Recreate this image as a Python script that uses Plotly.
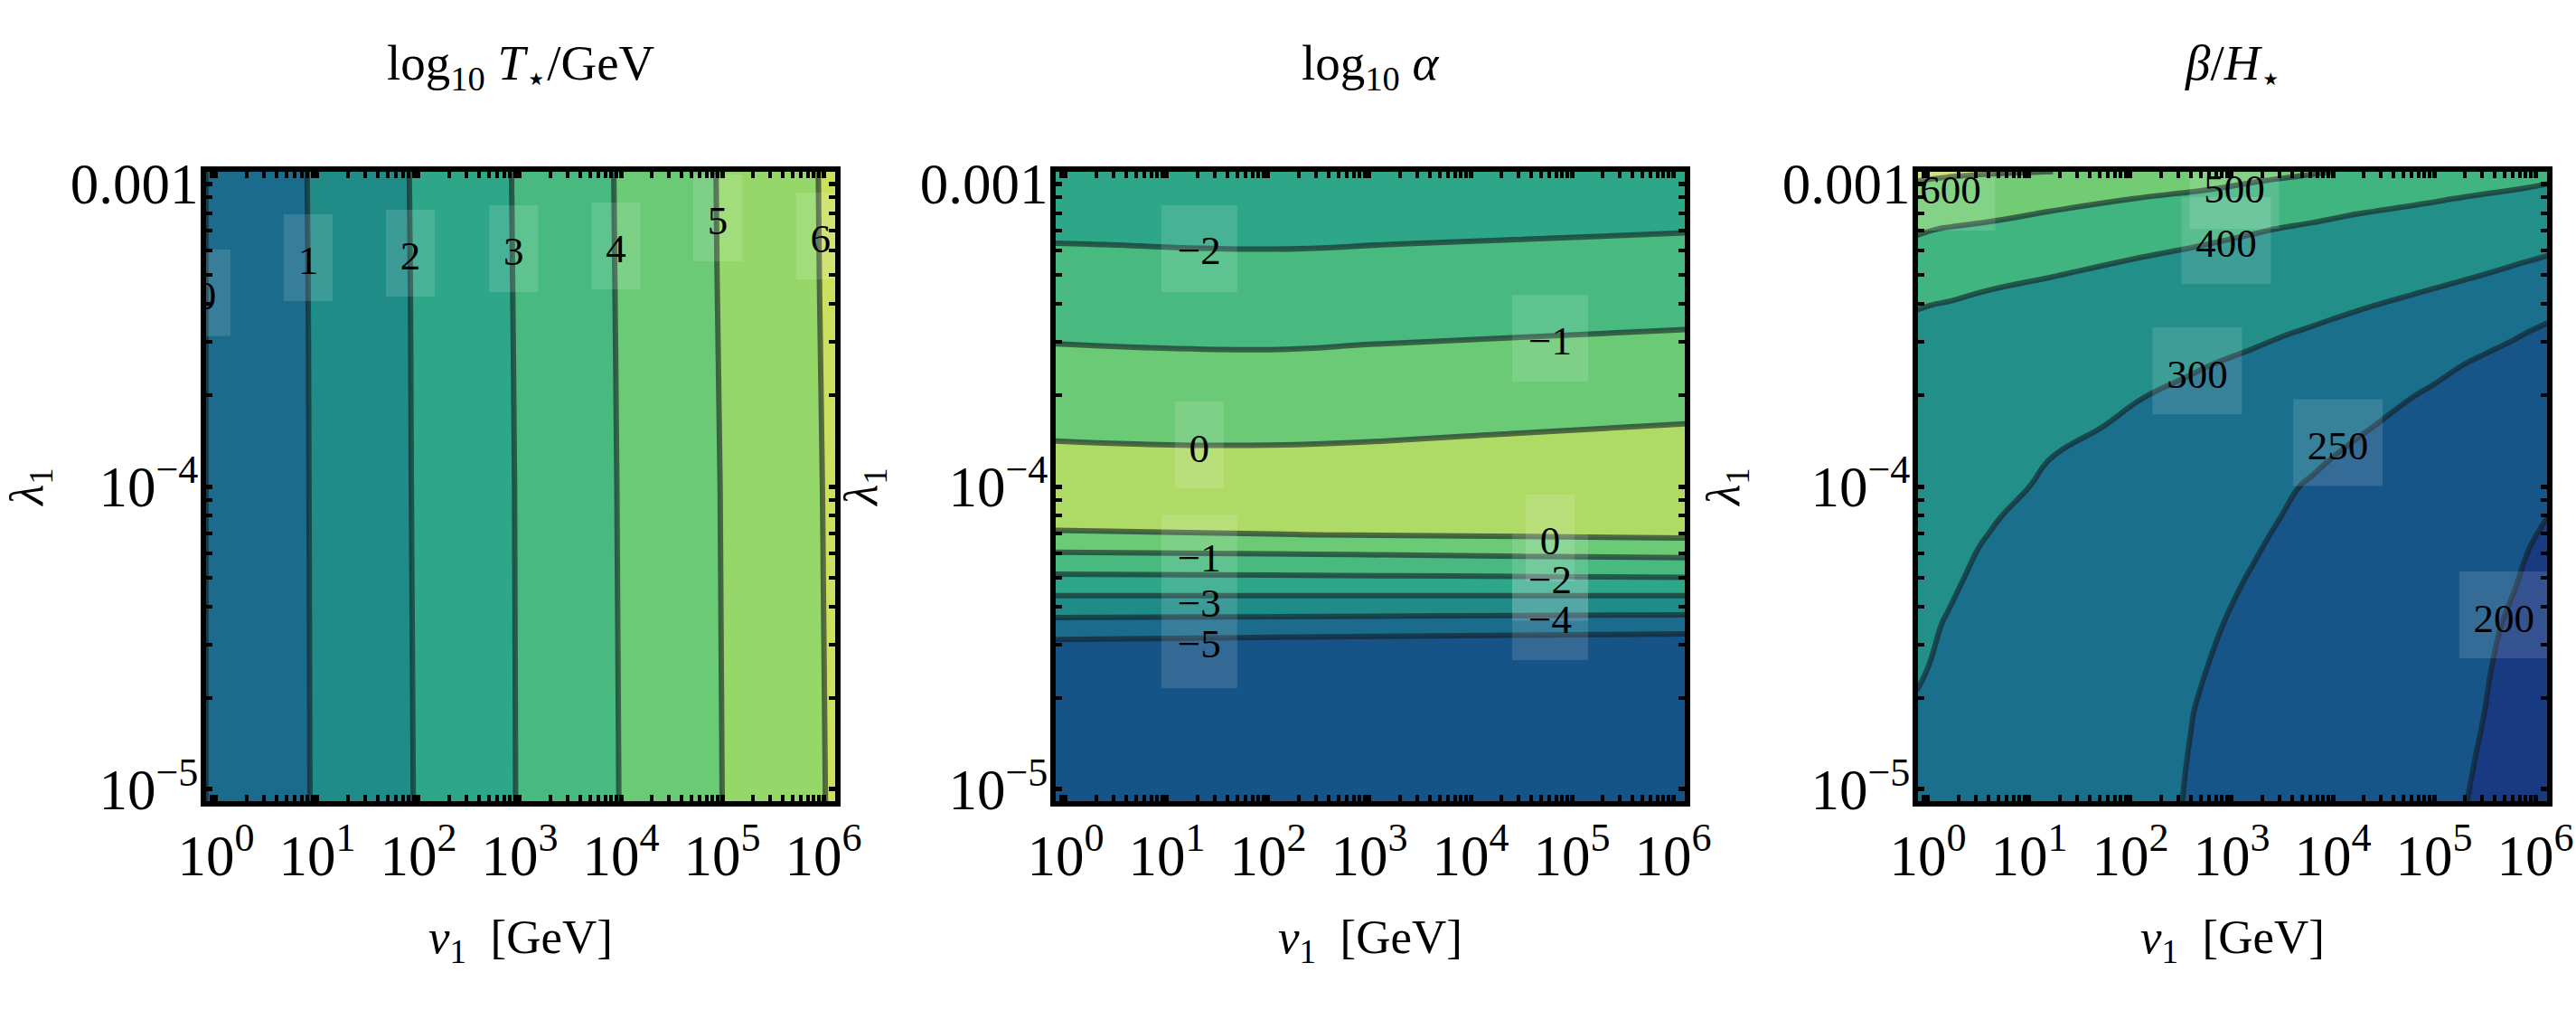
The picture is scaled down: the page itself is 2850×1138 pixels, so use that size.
import numpy as np
import plotly.graph_objects as go

FONT = "Liberation Serif"
log10_v1_p1 = [-0.11, 1, 2, 3, 4, 5, 6, 6.13]
log10_l1_p1 = [-5.04, -4.0, -3.3, -2.96]
z_p1 = [
    [-0.01, 1.07, 2.05, 3.04, 4.02, 5.00, 5.98, 6.11],
    [-0.01, 1.08, 2.07, 3.05, 4.04, 5.02, 6.01, 6.14],
    [-0.01, 1.09, 2.08, 3.07, 4.06, 5.05, 6.04, 6.17],
    [-0.01, 1.10, 2.09, 3.08, 4.07, 5.06, 6.05, 6.18],
]
levels_p1 = [0, 1, 2, 3, 4, 5, 6]
colors_p1 = ["#1a6b8c", "#208c88", "#2da788", "#48ba7f", "#6bca75", "#95d869", "#cbe05f"]
base_p1 = "#165386"

log10_v1_p2 = [-0.11, 2.03, 4.5, 6.13]
log10_l1_p2 = [-5.04, -4.6, -4.5, -4.43, -4.36, -4.295, -4.225, -4.16, -4.0, -3.83, -3.53, -3.2, -2.96]
z_p2 = [
    [-7, -7, -7, -7],
    [-6.32, -6.43, -6.54, -6.61],
    [-4.92, -5.03, -5.14, -5.21],
    [-3.96, -4.00, -4.06, -4.10],
    [-2.99, -2.99, -2.99, -2.99],
    [-2.07, -2.03, -1.97, -1.92],
    [-1.12, -1.04, -0.92, -0.85],
    [-0.093, -0.02, 0.077, 0.155],
    [0.9, 0.9, 0.9, 0.9],
    [-0.12, -0.22, 0.026, 0.12],
    [-0.997, -1.05, -0.93, -0.85],
    [-1.99, -2.05, -1.95, -1.88],
    [-2.75, -2.75, -2.70, -2.65],
]
levels_p2 = [-5, -4, -3, -2, -1, 0]
colors_p2 = ["#1a6b8c", "#208c88", "#2da788", "#48ba7f", "#6bca75", "#aedb66"]
base_p2 = "#165386"

log10_v1_p3 = [-0.11, 0.2, 0.6, 1.2, 2, 2.6, 3.2, 3.8, 4.4, 5, 5.5, 5.8, 6.13]
log10_l1_p3 = [-5.04, -4.9, -4.75, -4.6, -4.45, -4.3, -4.2, -4.1, -4.0, -3.9, -3.8, -3.7, -3.6,
               -3.5, -3.45, -3.4, -3.35, -3.3, -3.25, -3.2, -3.15, -3.1, -3.05, -3.02, -2.99, -2.96]
z_p3 = [
    [294.3, 289.1, 282.3, 272.2, 258.7, 248.5, 238.0, 227.5, 217.1, 206.6, 196.5, 187.9, 178.4],
    [296.4, 291.0, 284.1, 273.6, 259.7, 249.3, 238.8, 228.4, 218.0, 207.6, 198.2, 189.8, 180.6],
    [297.8, 293.3, 286.2, 275.4, 261.1, 250.4, 239.9, 229.5, 219.1, 208.6, 199.9, 191.8, 182.9],
    [302.1, 296.1, 288.9, 278.1, 263.6, 252.8, 242.1, 231.6, 221.0, 210.4, 201.6, 194.4, 185.6],
    [306.3, 298.5, 292.0, 281.2, 266.7, 255.8, 245.0, 234.2, 223.4, 212.6, 203.6, 197.3, 188.5],
    [311.7, 304.2, 293.7, 285.1, 270.6, 259.7, 248.9, 237.8, 226.8, 215.7, 206.5, 201.0, 192.5],
    [315.8, 308.1, 297.5, 287.9, 273.5, 262.8, 252.0, 240.8, 229.6, 218.4, 209.0, 203.4, 195.8],
    [321.0, 313.1, 303.1, 288.0, 276.9, 266.1, 255.3, 244.2, 232.8, 221.4, 211.9, 206.2, 199.9],
    [327.1, 319.2, 309.1, 295.6, 280.9, 269.8, 258.7, 247.6, 236.1, 224.6, 215.0, 209.3, 202.9],
    [334.9, 326.8, 316.3, 300.6, 286.2, 275.5, 264.8, 254.1, 242.4, 229.9, 219.5, 213.3, 206.5],
    [346.1, 338.1, 327.8, 312.3, 294.1, 283.1, 272.2, 261.2, 250.2, 236.6, 225.1, 218.3, 210.7],
    [357.0, 349.1, 338.9, 323.7, 303.3, 291.4, 280.3, 269.3, 258.3, 246.2, 233.5, 225.9, 217.6],
    [369.0, 361.6, 351.9, 337.5, 318.3, 303.9, 291.5, 279.8, 268.1, 256.4, 245.0, 236.3, 226.7],
    [380.4, 373.5, 364.7, 351.5, 333.9, 320.6, 307.4, 294.4, 281.8, 269.1, 258.5, 252.2, 241.8],
    [390.9, 384.0, 375.1, 361.7, 343.9, 330.6, 317.2, 303.9, 290.5, 277.0, 265.8, 259.1, 251.7],
    [404.8, 395.0, 386.0, 372.6, 354.6, 341.2, 327.7, 314.2, 300.8, 286.5, 274.7, 267.5, 259.7],
    [433.1, 418.9, 400.6, 386.5, 368.1, 354.3, 340.6, 326.8, 313.0, 299.1, 285.9, 278.1, 269.4],
    [454.4, 442.3, 426.8, 403.5, 383.1, 368.8, 354.6, 340.3, 326.0, 311.8, 299.9, 290.6, 280.5],
    [470.4, 460.1, 446.8, 426.9, 400.3, 385.3, 370.4, 355.4, 340.5, 325.5, 313.1, 305.6, 296.0],
    [487.7, 478.2, 465.9, 447.5, 422.9, 404.5, 388.1, 372.4, 356.7, 341.0, 327.9, 320.1, 311.4],
    [508.6, 495.5, 483.6, 465.8, 442.1, 424.2, 406.4, 389.5, 373.0, 356.5, 342.7, 334.5, 325.4],
    [546.8, 534.0, 517.5, 494.6, 469.7, 451.1, 432.5, 413.9, 395.1, 375.5, 359.3, 349.5, 338.8],
    [570.5, 560.3, 547.0, 527.2, 500.7, 481.9, 463.2, 444.4, 425.7, 407.0, 388.3, 375.6, 361.7],
    [587.1, 577.7, 565.7, 547.7, 523.7, 505.7, 486.4, 466.5, 446.6, 426.8, 410.2, 400.3, 383.4],
    [600.7, 592.6, 580.8, 563.1, 539.5, 521.8, 504.1, 484.9, 465.3, 445.7, 429.4, 419.6, 408.8],
    [615.2, 611.9, 607.6, 601.2, 574.1, 551.7, 529.3, 506.9, 486.2, 466.3, 449.8, 439.8, 428.9],
]
levels_p3 = [200, 250, 300, 400, 500, 600]
colors_p3 = ["#175588", "#1a708c", "#238f89", "#40b57f", "#72cc74", "#c5e063"]
base_p3 = "#183a80"

titles = ["log<sub>10</sub> <i>T</i><sub>⋆</sub>/GeV", "log<sub>10</sub> <i>α</i>", "<i>β</i>/<i>H</i><sub>⋆</sub>"]
x_tick_vals = [0, 1, 2, 3, 4, 5, 6]
x_tick_text = ["10<sup>%d</sup>" % k for k in x_tick_vals]
y_tick_vals = [-5, -4, -3]
y_tick_text = ["10<sup>−5</sup>", "10<sup>−4</sup>", "0.001"]

labels_p1 = (["0", "1", "2", "3", "4", "5", "6"],
             [-0.098, 0.91, 1.92, 2.94, 3.95, 4.955, 5.97],
             [-3.381, -3.265, -3.251, -3.236, -3.227, -3.134, -3.194])
boxes_p1 = [(-0.098, -3.36, 54, 96), (0.91, -3.245, 54, 96), (1.92, -3.23, 54, 96), (2.94, -3.215, 54, 96),
            (3.95, -3.206, 54, 96), (4.955, -3.113, 54, 96), (5.97, -3.173, 54, 96)]
labels_p2 = (["−2", "−1", "0", "−1", "−3", "−5", "0", "−2", "−4"],
             [1.32, 4.786, 1.32, 1.32, 1.32, 1.32, 4.786, 4.786, 4.786],
             [-3.231, -3.531, -3.886, -4.247, -4.396, -4.531, -4.191, -4.318, -4.451])
boxes_p2 = [(1.32, -3.215, 84, 96), (4.786, -3.51, 84, 96), (1.32, -3.863, 54, 96), (1.32, -4.38, 84, 192),
            (4.786, -4.17, 54, 96), (4.786, -4.30, 84, 96), (4.786, -4.43, 84, 96)]
labels_p3 = (["600", "500", "400", "300", "250", "200"],
             [0.223, 3.027, 2.946, 2.66, 4.05, 5.69],
             [-3.031, -3.029, -3.208, -3.641, -3.878, -4.447])
boxes_p3 = [(0.223, -3.012, 99, 96), (3.027, -3.006, 99, 96), (2.946, -3.188, 99, 96),
            (2.66, -3.618, 99, 96), (4.05, -3.855, 99, 96), (5.69, -4.424, 99, 96)]

minor_x = [float(e + np.log10(m)) for e in range(-1, 7) for m in range(2, 10)]
minor_y = [float(e + np.log10(m)) for e in range(-6, -2) for m in range(2, 10)]

W, H = 2850, 1138
inner_x = [(228, 924), (1168, 1864), (2122, 2818)]
inner_y = (190, 886)
X_RANGE = [-0.098, 6.116]
Y_RANGE = [-5.039, -2.961]
PX_X = (X_RANGE[1] - X_RANGE[0]) / 696
PX_Y = (Y_RANGE[1] - Y_RANGE[0]) / 696

fig = go.Figure()
panels = [
    (log10_v1_p1, log10_l1_p1, z_p1, levels_p1, colors_p1, base_p1, labels_p1, boxes_p1),
    (log10_v1_p2, log10_l1_p2, z_p2, levels_p2, colors_p2, base_p2, labels_p2, boxes_p2),
    (log10_v1_p3, log10_l1_p3, z_p3, levels_p3, colors_p3, base_p3, labels_p3, boxes_p3),
]
layout = {}
for i, (xv, yv, zv, lev, cols, base, lab, box) in enumerate(panels):
    n = "" if i == 0 else str(i + 1)
    xref, yref = "x" + n, "y" + n
    fig.add_shape(type="rect", xref=xref + " domain", yref=yref + " domain", x0=0, x1=1, y0=0, y1=1,
                  fillcolor=base, line_width=0, layer="below")
    for L, c in zip(lev, cols):
        fig.add_trace(go.Contour(x=xv, y=yv, z=zv, xaxis=xref, yaxis=yref, showscale=False, hoverinfo="skip",
                                 contours=dict(type="constraint", operation="<", value=L),
                                 fillcolor=c, line=dict(color="rgba(20,29,33,0.6)", width=6, smoothing=1.3)))
    for bx, by, bw, bh in box:
        hx, hy = bw / 2 * PX_X, bh / 2 * PX_Y
        fig.add_trace(go.Scatter(x=[bx - hx, bx + hx, bx + hx, bx - hx, bx - hx],
                                 y=[by - hy, by - hy, by + hy, by + hy, by - hy],
                                 mode="lines", fill="toself", fillcolor="rgba(255,255,255,0.13)",
                                 line=dict(width=0), xaxis=xref, yaxis=yref, hoverinfo="skip", showlegend=False))
    fig.add_trace(go.Scatter(x=lab[1], y=lab[2], text=lab[0], mode="text", xaxis=xref, yaxis=yref, hoverinfo="skip",
                             textposition="middle center", showlegend=False,
                             textfont=dict(family=FONT, size=45, color="black")))
    x0, x1 = inner_x[i]
    axis_common = dict(showline=True, linecolor="black", linewidth=6, mirror="allticks", ticks="inside", ticklen=7,
                       tickwidth=5, tickcolor="black", showgrid=False, zeroline=False, automargin=False,
                       tickfont=dict(family=FONT, size=63, color="black"))
    layout["xaxis" + n] = dict(axis_common, domain=[x0 / W, x1 / W], range=X_RANGE, anchor=yref,
                               tickmode="array", tickvals=x_tick_vals, ticktext=x_tick_text,
                               minor=dict(ticks="inside", ticklen=7, tickwidth=4, tickcolor="black",
                                          tickmode="array", tickvals=minor_x, showgrid=False),
                               title=dict(text="<i>v</i><sub>1</sub>  [GeV]", standoff=38,
                                          font=dict(family=FONT, size=53, color="black")))
    layout["yaxis" + n] = dict(axis_common, domain=[1 - inner_y[1] / H, 1 - inner_y[0] / H], range=Y_RANGE, anchor=xref,
                               tickmode="array", tickvals=y_tick_vals, ticktext=y_tick_text, ticklabelstandoff=-10,
                               minor=dict(ticks="inside", ticklen=7, tickwidth=4, tickcolor="black",
                                          tickmode="array", tickvals=minor_y, showgrid=False),
                               title=dict(text="<i>λ</i><sub>1</sub>", standoff=32,
                                          font=dict(family=FONT, size=53, color="black")))
    fig.add_annotation(text=titles[i], xref=xref + " domain", yref=yref + " domain", x=0.5,
                       y=1 + 116 / 696, yanchor="middle", showarrow=False,
                       font=dict(family=FONT, size=55, color="black"))

fig.update_layout(width=W, height=H, margin=dict(l=0, r=0, t=0, b=0, autoexpand=False), paper_bgcolor="white",
                  plot_bgcolor="white", showlegend=False, **layout)
fig.write_html("out.html", config=dict(displayModeBar=False), post_script="document.body.style.margin='0'")
